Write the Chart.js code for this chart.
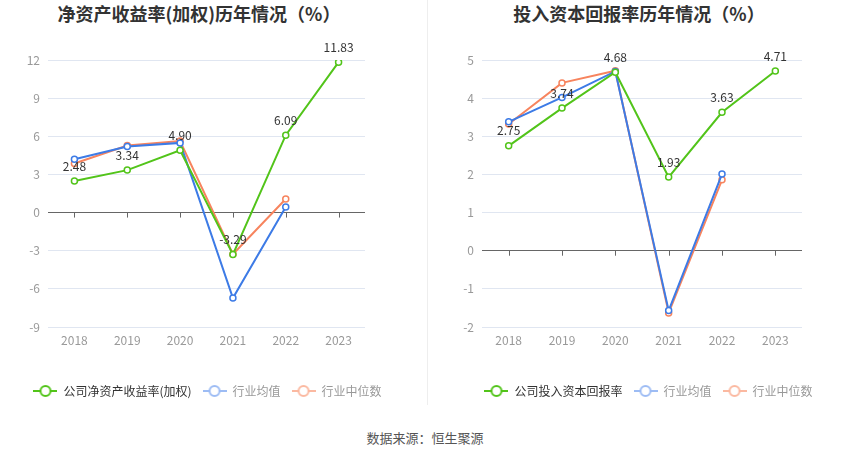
<!DOCTYPE html>
<html>
<head>
<meta charset="utf-8">
<script src="https://cdn.jsdelivr.net/npm/chart.js@4.4.1/dist/chart.umd.min.js"></script>
<style>
    body { margin: 0; background: #fff; font-family: "Noto Sans CJK SC", sans-serif; }
    #wrap { position: relative; width: 850px; height: 459px; overflow: hidden; }
    canvas { position: absolute; top: 0; }
    .title { position: absolute; top: 0; width: 400px; text-align: center; font-size: 18px; font-weight: bold; color: #333; line-height: 26px; }
    #divider { position: absolute; left: 427px; top: 0; width: 1px; height: 405px; background: #eeeeee; }
    #source { position: absolute; left: 0; width: 850px; top: 428px; text-align: center; font-size: 13px; color: #555; }
</style>
</head>
<body>
<div id="wrap">
    <div class="title" style="left: -1px;">净资产收益率(加权)历年情况（%）</div>
    <div class="title" style="left: 439px;">投入资本回报率历年情况（%）</div>
    <div id="divider"></div>
    <canvas id="roeChart" width="415" height="410" style="left: 0;"></canvas>
    <canvas id="roicChart" width="397" height="410" style="left: 450px;"></canvas>
    <div id="source">数据来源：恒生聚源</div>
</div>
<script>
const years = ["2018", "2019", "2020", "2021", "2022", "2023"];

const roeCompany = [2.48, 3.34, 4.90, -3.29, 6.09, 11.83];
const roeIndustryAvg = [4.20, 5.20, 5.48, -6.72, 0.44, null];
const roeIndustryMedian = [3.86, 5.28, 5.62, -3.28, 1.07, null];

const roicCompany = [2.75, 3.74, 4.68, 1.93, 3.63, 4.71];
const roicIndustryAvg = [3.38, 4.02, 4.70, -1.57, 2.01, null];
const roicIndustryMedian = [3.32, 4.40, 4.72, -1.63, 1.86, null];

const seriesNames = ["行业均值", "行业中位数"];
const colors = ["#52c41a", "#3d7be6", "#f7845e"];
const legendColors = ["#52c41a", "#9dbcf4", "#fbb9a1"];
const fontName = "'Noto Sans CJK SC', sans-serif";

// legend icon: short line with a hollow circle in the middle
function legendIcon(color) {
    const c = document.createElement("canvas");
    c.width = 24;
    c.height = 14;
    const g = c.getContext("2d");
    g.strokeStyle = color;
    g.lineWidth = 2;
    g.beginPath();
    g.moveTo(0, 7);
    g.lineTo(24, 7);
    g.stroke();
    g.beginPath();
    g.arc(12, 7, 5, 0, Math.PI * 2);
    g.fillStyle = "#fff";
    g.fill();
    g.stroke();
    return c;
}

// labels above the company series
const valueLabels = {
    id: "valueLabels",
    afterDatasetsDraw(chart) {
        const ctx = chart.ctx;
        const meta = chart.getDatasetMeta(0);
        const data = chart.data.datasets[0].data;
        ctx.save();
        ctx.font = "12px " + fontName;
        ctx.fillStyle = "#333";
        ctx.textAlign = "center";
        ctx.textBaseline = "middle";
        meta.data.forEach((pt, i) => {
            if (data[i] === null) return;
            ctx.fillText(data[i].toFixed(2), pt.x, pt.y - 15);
        });
        ctx.restore();
    }
};

// small ticks below the zero line at each category
const zeroTicks = {
    id: "zeroTicks",
    beforeDatasetsDraw(chart) {
        const ctx = chart.ctx;
        const x = chart.scales.x;
        const y0 = chart.scales.y.getPixelForValue(0);
        ctx.save();
        ctx.strokeStyle = "#666";
        ctx.lineWidth = 1;
        x.ticks.forEach((t, i) => {
            const px = Math.round(x.getPixelForTick(i)) + 0.5;
            ctx.beginPath();
            ctx.moveTo(px, y0);
            ctx.lineTo(px, y0 + 5);
            ctx.stroke();
        });
        ctx.restore();
    }
};

function makeDataset(label, data, i) {
    return {
        label: label,
        data: data,
        borderColor: colors[i],
        backgroundColor: "#fff",
        borderWidth: 2,
        pointRadius: 3,
        pointBorderWidth: 1.5,
        pointBackgroundColor: "#fff",
        pointBorderColor: colors[i],
        tension: 0
    };
}

function makeChart(id, companyName, company, avg, median, yMin, yMax, step, axisWidth, rightSpace) {
    const ctx = document.getElementById(id).getContext("2d");
    return new Chart(ctx, {
        type: "line",
        data: {
            labels: years,
            datasets: [
                makeDataset(companyName, company, 0),
                makeDataset(seriesNames[0], avg, 1),
                makeDataset(seriesNames[1], median, 2)
            ]
        },
        options: {
            responsive: false,
            animation: false,
            layout: { padding: { top: 60, right: 0, bottom: 3, left: 0 } },
            scales: {
                x: {
                    offset: true,
                    grid: { display: false, drawTicks: false },
                    border: { display: false },
                    ticks: { color: "#999", font: { size: 12, family: fontName }, padding: 6 },
                    afterFit(scale) { scale.height = 47; }
                },
                y: {
                    min: yMin,
                    max: yMax,
                    ticks: { stepSize: step, color: "#999", font: { size: 12, family: fontName }, padding: 8 },
                    grid: {
                        drawTicks: false,
                        color: (c) => (c.tick && c.tick.value === 0 ? "#666" : "#e0e6f1")
                    },
                    border: { display: false },
                    afterFit(scale) { scale.width = axisWidth; }
                },
                // empty space on the right so the legend stays centred under the plot
                yRight: {
                    position: "right",
                    grid: { display: false },
                    ticks: { display: false },
                    border: { display: false },
                    afterFit(scale) { scale.width = rightSpace; }
                }
            },
            plugins: {
                legend: {
                    position: "bottom",
                    labels: {
                        usePointStyle: true,
                        pointStyleWidth: 24,
                        boxHeight: 12,
                        padding: 11,
                        font: { size: 12, family: fontName },
                        generateLabels(chart) {
                            const items = Chart.defaults.plugins.legend.labels.generateLabels(chart);
                            items.forEach((item, i) => {
                                item.pointStyle = legendIcon(legendColors[i]);
                                item.fontColor = i === 0 ? "#333" : "#999";
                            });
                            return items;
                        }
                    }
                },
                tooltip: { enabled: true }
            }
        },
        plugins: [valueLabels, zeroTicks]
    });
}

makeChart("roeChart", "公司净资产收益率(加权)", roeCompany, roeIndustryAvg, roeIndustryMedian, -9, 12, 3, 48, 50);
makeChart("roicChart", "公司投入资本回报率", roicCompany, roicIndustryAvg, roicIndustryMedian, -2, 5, 1, 32, 45);
</script>
</body>
</html>
